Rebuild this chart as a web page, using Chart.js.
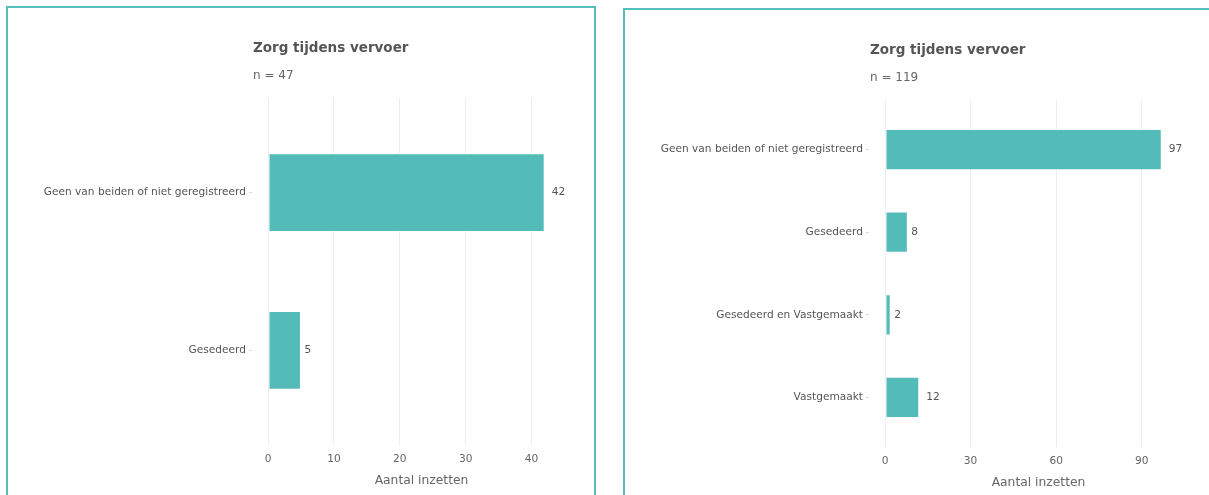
<!DOCTYPE html>
<html>
<head>
<meta charset="utf-8">
<script src="https://cdn.jsdelivr.net/npm/chart.js@4"></script>
<style>
  body { margin: 0; background: #fff; font-family: 'DejaVu Sans', sans-serif; }
  .panel { position: absolute; width: 586px; height: 496px; border: 2px solid #55bfbc; background: #fff; }
  .panel canvas { position: absolute; left: 0; top: 0; }
  .title { position: absolute; left: 245px; top: 31px; font-size: 13.5px; line-height: 16px; font-weight: bold; color: #555; }
  .sub { position: absolute; left: 245px; top: 60px; font-size: 12px; line-height: 14px; color: #666; }
</style>
</head>
<body>
<div class="panel" style="left:6px;top:6px">
  <canvas id="leftChart" width="586" height="490"></canvas>
  <div class="title">Zorg tijdens vervoer</div>
  <div class="sub">n = 47</div>
</div>
<div class="panel" style="left:623px;top:8px">
  <canvas id="rightChart" width="586" height="490"></canvas>
  <div class="title">Zorg tijdens vervoer</div>
  <div class="sub">n = 119</div>
</div>
<script>
// data
const leftCategories = ["Geen van beiden of niet geregistreerd", "Gesedeerd"];
const leftCounts = [42, 5];
const leftXTicks = [0, 10, 20, 30, 40];
const leftXMax = 46.6;

const rightCategories = ["Geen van beiden of niet geregistreerd", "Gesedeerd", "Gesedeerd en Vastgemaakt", "Vastgemaakt"];
const rightCounts = [97, 8, 2, 12];
const rightXTicks = [0, 30, 60, 90];
const rightXMax = 107.6;

const axisTitle = "Aantal inzetten";
const teal = "#53bcb9";

Chart.defaults.font.family = "'DejaVu Sans', sans-serif";

// value next to each bar end
const barValueLabels = {
  id: "barValueLabels",
  afterDatasetsDraw(chart) {
    const ctx = chart.ctx;
    const ds = chart.data.datasets[0];
    ctx.save();
    ctx.font = "10.6px 'DejaVu Sans'";
    ctx.fillStyle = "#555";
    ctx.textBaseline = "middle";
    chart.getDatasetMeta(0).data.forEach((bar, i) => {
      const txt = String(ds.data[i].x);
      ctx.fillText(txt, bar.x + 3.5 * txt.length, bar.y);
    });
    ctx.restore();
  }
};

function makeChart(canvas, categories, counts, xTicks, xMax) {
  return new Chart(canvas, {
    type: "bar",
    data: {
      datasets: [{
        data: counts.map((v, i) => ({ x: v, y: i })),
        backgroundColor: teal,
        borderColor: "rgba(255,255,255,0.45)",
        borderWidth: 1,
        borderSkipped: false,
        barPercentage: 0.5,
        categoryPercentage: 1
      }]
    },
    options: {
      indexAxis: "y",
      responsive: false,
      animation: false,
      layout: { padding: { top: 90, right: 19, bottom: 0, left: 0 } },
      plugins: { legend: { display: false }, tooltip: { enabled: false } },
      scales: {
        x: {
          type: "linear",
          min: 0,
          max: xMax,
          afterBuildTicks: s => { s.ticks = xTicks.map(v => ({ value: v })); },
          afterFit: s => { s.height = 53; },
          grid: { color: "#eeeeee", drawTicks: false },
          border: { display: false },
          ticks: { padding: 8, color: "#666", font: { size: 10.6 } },
          title: { display: true, text: axisTitle, color: "#666", font: { size: 12.3 }, padding: { top: 0, bottom: 9.6 } }
        },
        y: {
          type: "linear",
          reverse: true,
          offset: false,
          min: -0.6,
          max: categories.length - 0.4,
          afterBuildTicks: s => { s.ticks = categories.map((c, i) => ({ value: i })); },
          afterFit: s => { s.width = 260; },
          grid: { offset: false, drawOnChartArea: false, drawTicks: true, tickLength: 19, tickColor: "#dddddd", tickBorderDash: [3, 40], tickWidth: 1 },
          border: { display: false },
          ticks: { padding: 3, color: "#555", font: { size: 10.6 }, callback: v => categories[v] }
        }
      }
    },
    plugins: [barValueLabels]
  });
}

makeChart(document.getElementById("leftChart"), leftCategories, leftCounts, leftXTicks, leftXMax);
makeChart(document.getElementById("rightChart"), rightCategories, rightCounts, rightXTicks, rightXMax);
</script>
</body>
</html>
